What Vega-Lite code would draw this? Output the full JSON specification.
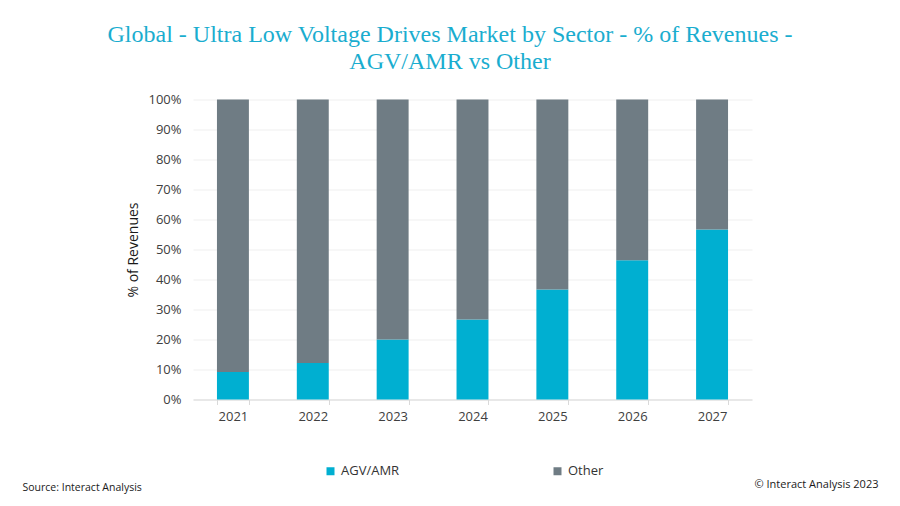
{
  "$schema": "https://vega.github.io/schema/vega-lite/v6.json",
  "autosize": {"type": "none"},
  "width": 559,
  "height": 300,
  "padding": {"left": 193, "top": 99.5, "right": 148, "bottom": 106.5},
  "background": "white",
  "title": {
    "text": ["Global - Ultra Low Voltage Drives Market by Sector - % of Revenues -", "AGV/AMR vs Other"],
    "font": "Liberation Serif",
    "fontSize": 24,
    "fontWeight": "normal",
    "color": "#1aadcf",
    "lineHeight": 27,
    "anchor": "middle",
    "frame": "group",
    "dx": -22.5,
    "offset": 20
  },
  "data": {
    "values": [
      {"year": "2021", "sector": "AGV/AMR", "pct": 9.2},
      {"year": "2021", "sector": "Other", "pct": 90.8},
      {"year": "2022", "sector": "AGV/AMR", "pct": 12.2},
      {"year": "2022", "sector": "Other", "pct": 87.8},
      {"year": "2023", "sector": "AGV/AMR", "pct": 20.0},
      {"year": "2023", "sector": "Other", "pct": 80.0},
      {"year": "2024", "sector": "AGV/AMR", "pct": 26.7},
      {"year": "2024", "sector": "Other", "pct": 73.3},
      {"year": "2025", "sector": "AGV/AMR", "pct": 36.7},
      {"year": "2025", "sector": "Other", "pct": 63.3},
      {"year": "2026", "sector": "AGV/AMR", "pct": 46.4},
      {"year": "2026", "sector": "Other", "pct": 53.6},
      {"year": "2027", "sector": "AGV/AMR", "pct": 56.7},
      {"year": "2027", "sector": "Other", "pct": 43.3}
    ]
  },
  "encoding": {
    "x": {
      "field": "year",
      "type": "ordinal",
      "scale": {"paddingInner": 0.6, "paddingOuter": 0.3},
      "axis": {
        "title": "Source: Interact Analysis",
        "titleFont": "Open Sans",
        "titleFontSize": 10.5,
        "titleFontWeight": "normal",
        "titleColor": "#1a1a1a",
        "titleAnchor": "start",
        "titleAlign": "left",
        "titleBaseline": "middle",
        "titleX": -171,
        "titleY": 87.5,
        "labelAngle": 0,
        "labelFont": "Open Sans",
        "labelFontSize": 13,
        "labelColor": "#404040",
        "labelPadding": 6,
        "tickBand": "extent",
        "tickSize": 5,
        "tickColor": "#d9d9d9",
        "domainColor": "#d9d9d9",
        "grid": false
      }
    },
    "y": {
      "field": "pct",
      "type": "quantitative",
      "stack": "zero",
      "scale": {"domain": [0, 100], "nice": false},
      "axis": {
        "title": "% of Revenues",
        "titleFont": "Open Sans",
        "titleFontSize": 14,
        "titleFontWeight": "normal",
        "titleColor": "#1a1a1a",
        "titlePadding": 7,
        "values": [0, 10, 20, 30, 40, 50, 60, 70, 80, 90, 100],
        "labelExpr": "datum.value + '%'",
        "labelFont": "Open Sans",
        "labelFontSize": 13,
        "labelColor": "#404040",
        "labelPadding": 12,
        "ticks": false,
        "domain": false,
        "grid": true,
        "gridColor": "#efefef",
        "gridWidth": 1
      }
    },
    "order": {"field": "sector", "sort": "ascending"}
  },
  "layer": [
    {
      "mark": {"type": "bar"},
      "encoding": {
        "color": {
          "field": "sector",
          "type": "nominal",
          "scale": {"domain": ["AGV/AMR", "Other"], "range": ["#00afd1", "#6f7c84"]},
          "legend": {
            "title": null,
            "orient": "none",
            "direction": "horizontal",
            "legendX": 131,
            "legendY": 365,
            "padding": 0,
            "symbolType": "square",
            "symbolSize": 64,
            "symbolStrokeWidth": 0,
            "labelFont": "Open Sans",
            "labelFontSize": 13,
            "labelColor": "#333333",
            "labelOffset": 4,
            "columnPadding": 151
          }
        }
      }
    },
    {
      "mark": {"type": "bar", "opacity": 0},
      "encoding": {
        "y": {
          "field": "pct",
          "type": "quantitative",
          "stack": "zero",
          "axis": {
            "orient": "right",
            "title": "© Interact Analysis 2023",
            "titleFont": "Open Sans",
            "titleFontSize": 11,
            "titleFontWeight": "normal",
            "titleColor": "#1a1a1a",
            "titleAngle": 0,
            "titleAlign": "right",
            "titleBaseline": "middle",
            "titleX": 126,
            "titleY": 384.5,
            "labels": false,
            "ticks": false,
            "domain": false,
            "grid": false
          }
        }
      }
    }
  ],
  "resolve": {"axis": {"y": "independent"}},
  "config": {"view": {"stroke": null}}
}
